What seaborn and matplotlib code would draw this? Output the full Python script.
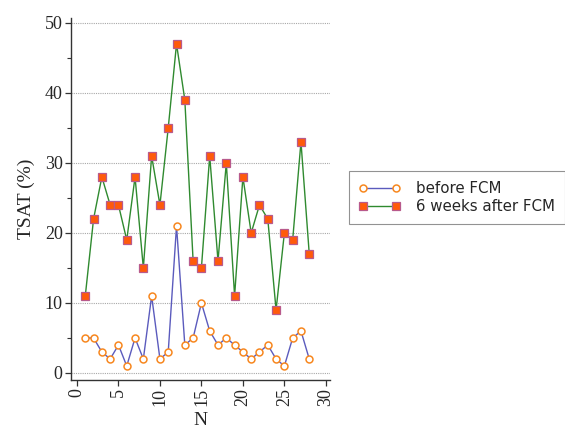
import matplotlib
matplotlib.use("Agg")
import matplotlib.pyplot as plt
from matplotlib.ticker import MultipleLocator
import seaborn as sns
import pandas as pd

# TSAT values per patient
patients = list(range(1, 29))
before_fcm = [5, 5, 3, 2, 4, 1, 5, 2, 11, 2, 3, 21, 4, 5,
              10, 6, 4, 5, 4, 3, 2, 3, 4, 2, 1, 5, 6, 2]
after_fcm = [11, 22, 28, 24, 24, 19, 28, 15, 31, 24, 35, 47, 39, 16,
             15, 31, 16, 30, 11, 28, 20, 24, 22, 9, 20, 19, 33, 17]
series_names = ["before FCM", "6 weeks after FCM"]

sns.set_theme(style="ticks")
plt.rcParams["font.family"] = ["DejaVu Sans"]

df = pd.DataFrame({"N": patients, series_names[0]: before_fcm,
                   series_names[1]: after_fcm})

fig = plt.figure(figsize=(5.65, 4.29), dpi=100)
ax = fig.add_axes([71 / 565, 1 - 380 / 429, (330 - 71) / 565, (380 - 18) / 429])

sns.lineplot(data=df, x="N", y=series_names[0], ax=ax, color="#5b5bbd",
             linewidth=1.0, marker="o", markersize=5.0, markerfacecolor="white",
             markeredgecolor="#f7871f", markeredgewidth=1.1,
             label=series_names[0])
sns.lineplot(data=df, x="N", y=series_names[1], ax=ax, color="#2f8a2f",
             linewidth=1.0, marker="s", markersize=5.6, markerfacecolor="#ff5a0a",
             markeredgecolor="#b85a8c", markeredgewidth=0.9,
             label=series_names[1])

ax.set_xlim(-0.72, 30.5)
ax.set_ylim(-1, 50.7)
ax.xaxis.set_major_locator(MultipleLocator(5))
ax.yaxis.set_major_locator(MultipleLocator(10))
ax.yaxis.set_minor_locator(MultipleLocator(5))

for y in range(0, 51, 10):
    ax.axhline(y, color="#a8a8a8", linewidth=0.8, linestyle=(0, (1, 1)), zorder=0)

for side in ("top", "right"):
    ax.spines[side].set_visible(False)
for side in ("left", "bottom"):
    ax.spines[side].set_color("#333333")
    ax.spines[side].set_linewidth(1.0)

serif = ["Liberation Serif", "DejaVu Serif"]
ax.tick_params(axis="both", which="major", length=4, width=0.9, color="#333333",
               labelsize=13, pad=2)
ax.tick_params(axis="y", which="minor", length=3, width=0.8, color="#333333")
for lab in ax.get_yticklabels():
    lab.set_family(serif)
for lab in ax.get_xticklabels():
    lab.set_family(serif)
    lab.set_rotation(90)

ax.set_xlabel("N", fontsize=14, family=serif, labelpad=4)
ax.set_ylabel("TSAT (%)", fontsize=14, family=serif, labelpad=7)

ax.get_legend().remove()
handles, labels = ax.get_legend_handles_labels()
leg = fig.legend(handles, labels, loc="upper left",
                 bbox_to_anchor=(349 / 565, 1 - 171 / 429), numpoints=2,
                 handlelength=2.8, fontsize=10.8, frameon=True, fancybox=False,
                 borderpad=0.65, borderaxespad=0.0, labelspacing=0.2,
                 handletextpad=1.0)
leg.get_frame().set_edgecolor("#777777")
leg.get_frame().set_linewidth(0.8)

fig.savefig("out.png", dpi=100)
